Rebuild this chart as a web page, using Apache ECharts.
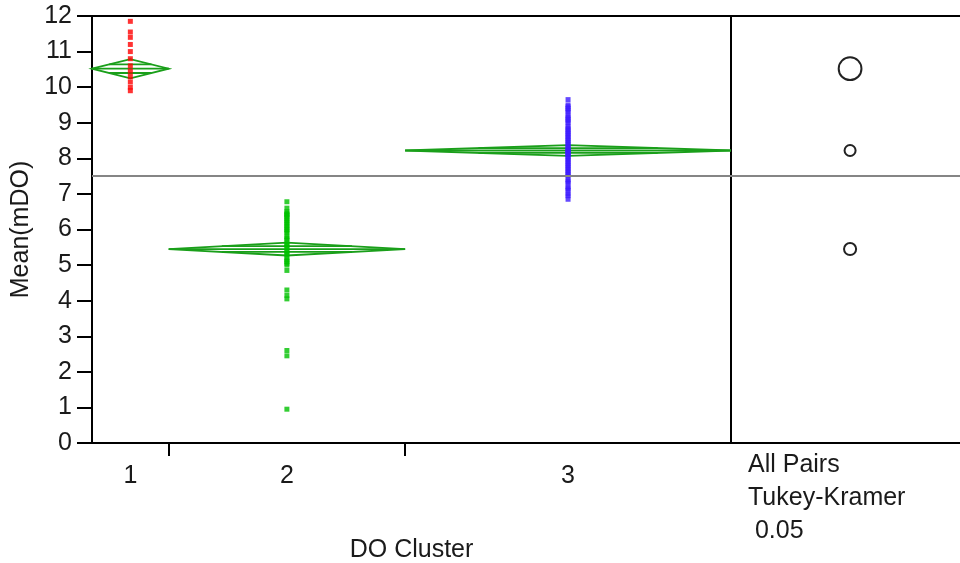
<!DOCTYPE html>
<html>
<head>
<meta charset="utf-8">
<script src="https://cdn.jsdelivr.net/npm/echarts@6/dist/echarts.min.js"></script>
<style>html,body{margin:0;padding:0;background:#fff}#c{width:960px;height:563px}</style>
</head>
<body>
<div id="c"></div>
<script>
// ---- data ----
const categories = ['1', '2', '3'];
const counts = [12, 37, 51];
const means = [10.52, 5.45, 8.22];
const ciHalf = [0.27, 0.18, 0.15];
const circleRadius = [0.32, 0.17, 0.155];
const grandMean = 7.5;
const cluster1Values = [11.85, 11.55, 11.4, 11.2, 11.0, 10.8, 10.6, 10.45, 10.3, 10.15, 10.0, 9.9];
const cluster2Values = [0.95, 2.45, 2.6, 4.05, 4.15, 4.3, 4.85,
  5.0, 5.05, 5.1, 5.15, 5.2, 5.3, 5.35, 5.4, 5.5, 5.55, 5.6, 5.7, 5.75, 5.8, 5.9, 5.95,
  6.0, 6.05, 6.1, 6.15, 6.2, 6.25, 6.3, 6.35, 6.4, 6.42, 6.45, 6.5, 6.6, 6.78];
const cluster3Values = [6.85, 6.95, 7.0, 7.1, 7.15, 7.2, 7.3, 7.35, 7.4, 7.5, 7.55, 7.6, 7.65, 7.7,
  7.75, 7.8, 7.85, 7.9, 7.95, 8.0, 8.05, 8.1, 8.12, 8.15, 8.2, 8.22, 8.25, 8.3, 8.35, 8.4, 8.45,
  8.5, 8.55, 8.6, 8.65, 8.7, 8.75, 8.8, 8.85, 8.9, 9.0, 9.05, 9.1, 9.15, 9.2, 9.3, 9.35, 9.4,
  9.45, 9.5, 9.65];
const yTicks = [0, 12, 1]; // min, max, interval
const xTitle = 'DO Cluster';
const yTitle = 'Mean(mDO)';
const panelText = 'All Pairs\nTukey-Kramer\n 0.05';

// ---- derived layout on the count scale ----
const total = counts.reduce((a, b) => a + b, 0);
const starts = [], ends = [], centers = [];
let acc = 0;
counts.forEach(n => { starts.push(acc); ends.push(acc + n); centers.push(acc + n / 2); acc += n; });
const boundaries = ends.slice(0, -1);

const pointColors = ['#ff0000', '#00c000', '#3d1cff'];
const diamondColor = '#1a9f1a';
const font = 'Liberation Sans, Arial, sans-serif';
const fs = 25;
const txt = '#1a1a1a';
const circleX = 0.52;
const axisLineStyle = { show: true, onZero: false, lineStyle: { color: '#000', width: 2 } };

const valueSets = [cluster1Values, cluster2Values, cluster3Values];
const pointSeries = valueSets.map((vals, i) => ({
  type: 'scatter', xAxisIndex: 0, yAxisIndex: 0,
  symbol: 'rect', symbolSize: [5, 5],
  itemStyle: { color: pointColors[i] },
  data: vals.map(v => [centers[i], v]),
  z: 3, silent: true
}));

const diamondData = categories.map((c, i) => [starts[i], ends[i], means[i], ciHalf[i]]);

const option = {
  animation: false,
  grid: [
    { left: 92, right: 229, top: 16, bottom: 120, show: true, borderColor: '#000', borderWidth: 2, outerBoundsMode: 'none', containLabel: false },
    { left: 731, right: 0, top: 16, bottom: 120, show: false, outerBoundsMode: 'none', containLabel: false }
  ],
  xAxis: [
    {
      gridIndex: 0, type: 'value', min: 0, max: total,
      axisLine: axisLineStyle,
      axisTick: { show: true, customValues: boundaries, length: 13, lineStyle: { color: '#000', width: 2 } },
      axisLabel: {
        show: true, customValues: centers, margin: 21,
        formatter: v => { const k = centers.findIndex(c => Math.abs(c - v) < 1e-6); return k >= 0 ? categories[k] : ''; },
        color: txt, fontSize: fs, fontFamily: font
      },
      splitLine: { show: false },
      name: xTitle, nameLocation: 'middle', nameGap: 95,
      nameTextStyle: { color: txt, fontSize: fs, fontFamily: font }
    },
    {
      gridIndex: 1, type: 'value', min: 0, max: 1, position: 'bottom',
      axisLine: axisLineStyle,
      axisTick: { show: false }, axisLabel: { show: false }, splitLine: { show: false }
    },
    {
      gridIndex: 1, type: 'value', min: 0, max: 1, position: 'top',
      axisLine: axisLineStyle,
      axisTick: { show: false }, axisLabel: { show: false }, splitLine: { show: false }
    }
  ],
  yAxis: [
    {
      gridIndex: 0, type: 'value', min: yTicks[0], max: yTicks[1], interval: yTicks[2],
      axisLine: axisLineStyle,
      axisTick: { show: true, length: 15, lineStyle: { color: '#000', width: 2 } },
      axisLabel: { color: txt, fontSize: fs, fontFamily: font, margin: 20 },
      splitLine: { show: false },
      name: yTitle, nameLocation: 'middle', nameGap: 48,
      nameTextStyle: { color: txt, fontSize: fs, fontFamily: font }
    },
    {
      gridIndex: 1, type: 'value', min: yTicks[0], max: yTicks[1], interval: yTicks[2],
      axisLine: axisLineStyle,
      axisTick: { show: false }, axisLabel: { show: false }, splitLine: { show: false }
    }
  ],
  graphic: [{
    type: 'text', left: 748, top: 449,
    style: { text: panelText, font: fs + 'px ' + font, fill: txt, lineHeight: 33 }
  }],
  series: [
    {
      type: 'custom', xAxisIndex: 0, yAxisIndex: 0, silent: true, z: 2,
      data: diamondData,
      encode: { x: [0, 1], y: 2 },
      renderItem: function (params, api) {
        const x0 = api.value(0), x1 = api.value(1), m = api.value(2), ci = api.value(3);
        const xc = (x0 + x1) / 2;
        const L = api.coord([x0, m]), R = api.coord([x1, m]);
        const T = api.coord([xc, m + ci]), B = api.coord([xc, m - ci]);
        const f = 0.55;
        const ho = ci * (1 - f);
        const oL1 = api.coord([xc - f * (xc - x0), m + ho]), oR1 = api.coord([xc + f * (x1 - xc), m + ho]);
        const oL2 = api.coord([xc - f * (xc - x0), m - ho]), oR2 = api.coord([xc + f * (x1 - xc), m - ho]);
        const st = { stroke: diamondColor, lineWidth: 1.8, fill: null };
        return {
          type: 'group', children: [
            { type: 'polygon', shape: { points: [L, T, R, B] }, style: st },
            { type: 'line', shape: { x1: L[0], y1: L[1], x2: R[0], y2: R[1] }, style: st },
            { type: 'line', shape: { x1: oL1[0], y1: oL1[1], x2: oR1[0], y2: oR1[1] }, style: st },
            { type: 'line', shape: { x1: oL2[0], y1: oL2[1], x2: oR2[0], y2: oR2[1] }, style: st }
          ]
        };
      },
      markLine: {
        silent: true, symbol: ['none', 'none'], label: { show: false },
        lineStyle: { color: '#858585', width: 2, type: 'solid' },
        data: [{ yAxis: grandMean }]
      }
    },
    ...pointSeries,
    {
      type: 'custom', xAxisIndex: 1, yAxisIndex: 1, silent: true,
      data: means.map((m, i) => [circleX, m, circleRadius[i]]),
      encode: { x: 0, y: 1 },
      renderItem: function (params, api) {
        const c = api.coord([api.value(0), api.value(1)]);
        const r = api.size([0, api.value(2)])[1];
        return { type: 'circle', shape: { cx: c[0], cy: c[1], r: r }, style: { stroke: '#222', lineWidth: 2, fill: null } };
      },
      markLine: {
        silent: true, symbol: ['none', 'none'], label: { show: false },
        lineStyle: { color: '#858585', width: 2, type: 'solid' },
        data: [{ yAxis: grandMean }]
      }
    }
  ]
};

const chart = echarts.init(document.getElementById('c'), null, { renderer: 'canvas' });
chart.setOption(option);
</script>
</body>
</html>
